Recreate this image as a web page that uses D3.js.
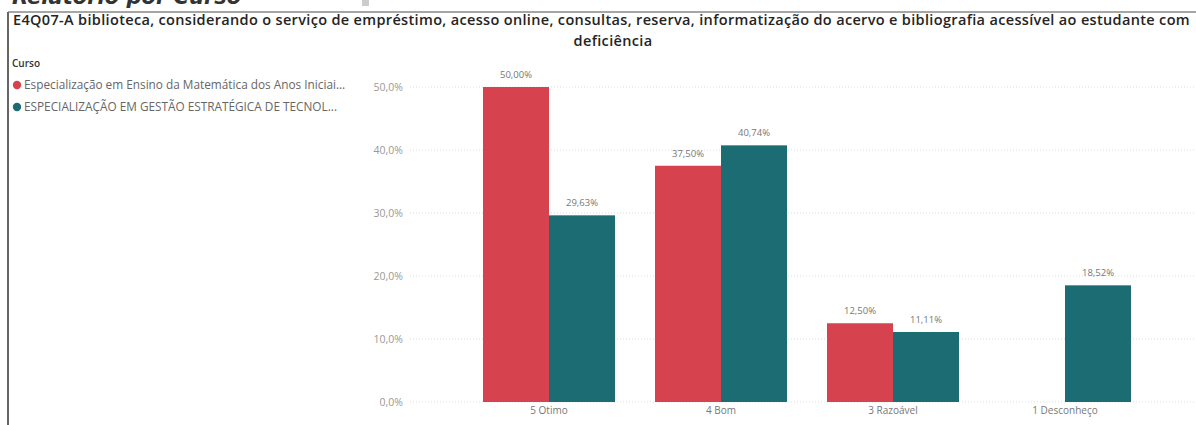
<!DOCTYPE html>
<html><head><meta charset="utf-8">
<script src="https://cdn.jsdelivr.net/npm/d3@7"></script>
<style>
html,body{margin:0;padding:0;background:#fff;overflow:hidden}
svg{display:block}
</style></head>
<body>
<svg id="c" width="1196" height="425"></svg>
<script>
const pageHeading = "Relatório por Curso";
const titleLines = [
  "E4Q07-A biblioteca, considerando o serviço de empréstimo, acesso online, consultas, reserva, informatização do acervo e bibliografia acessível ao estudante com",
  "deficiência"
];
const legendTitle = "Curso";
const seriesNames = [
  "Especialização em Ensino da Matemática dos Anos Iniciai...",
  "ESPECIALIZAÇÃO EM GESTÃO ESTRATÉGICA DE TECNOL..."
];
const categories = ["5 Otimo", "4 Bom", "3 Razoável", "1 Desconheço"];
const seriesA = [50.00, 37.50, 12.50, null];
const seriesB = [29.63, 40.74, 11.11, 18.52];
const yTicks = [0, 10, 20, 30, 40, 50];
const colors = ["#D6434F", "#1C6D73"];

const svg = d3.select("#c");

// cut-off page heading
svg.append("text").attr("x", 12).attr("y", 4)
  .attr("font-family", "DejaVu Sans").attr("font-size", 21).attr("font-weight", "bold")
  .attr("font-style", "italic").attr("fill", "#333").text(pageHeading);
svg.append("rect").attr("x", 362).attr("y", 0).attr("width", 7).attr("height", 6).attr("fill", "#ccc");

// visual border
svg.append("line").attr("x1", 8).attr("x2", 1196).attr("y1", 12).attr("y2", 12).attr("stroke", "#888").attr("stroke-width", 1.5);
svg.append("line").attr("x1", 8).attr("x2", 8).attr("y1", 12).attr("y2", 425).attr("stroke", "#666").attr("stroke-width", 2);

// title
const tFont = 14.5;
const t1 = svg.append("text").attr("x", 13).attr("y", 25)
  .attr("font-family", "Open Sans").attr("font-weight", 600).attr("font-size", tFont).attr("fill", "#252423")
  .text(titleLines[0]);
const w = t1.node().getComputedTextLength();
const target = 1177;
const ls = (target - w) / titleLines[0].length;
t1.attr("letter-spacing", ls);
svg.append("text").attr("x", 613).attr("y", 46).attr("text-anchor", "middle")
  .attr("font-family", "Open Sans").attr("font-weight", 600).attr("font-size", tFont).attr("letter-spacing", ls).attr("fill", "#252423")
  .text(titleLines[1]);

// legend
svg.append("text").attr("x", 12).attr("y", 67).attr("font-family", "Open Sans")
  .attr("font-size", 10).attr("font-weight", 600).attr("fill", "#333").text(legendTitle);
seriesNames.forEach((n, i) => {
  const y = 85 + i * 22;
  svg.append("circle").attr("cx", 17).attr("cy", y).attr("r", 4.2).attr("fill", colors[i]);
  svg.append("text").attr("x", 24).attr("y", y + 4).attr("font-family", "Open Sans")
    .attr("font-size", 11.8).attr("fill", "#666").text(n);
});

// scales
const y = d3.scaleLinear().domain([0, 50]).range([402, 87]);
const x = d3.scaleBand().domain(categories).range([410, 1204]).paddingInner(40 / 172).paddingOuter(73 / 172);
const xs = d3.scaleBand().domain([0, 1]).range([0, x.bandwidth()]);

// grid + y axis
const yAxis = d3.axisLeft(y).tickValues(yTicks).tickSize(0).tickPadding(0)
  .tickFormat(d => d3.format(".1f")(d).replace(".", ",") + "%");
const ga = svg.append("g").attr("transform", "translate(403,0)").call(yAxis);
ga.select(".domain").remove();
ga.selectAll("text").attr("font-family", "Open Sans").attr("font-size", 10.5).attr("fill", "#999");
svg.append("g").selectAll("line").data(yTicks).join("line")
  .attr("x1", 410).attr("x2", 1196).attr("y1", d => y(d)).attr("y2", d => y(d))
  .attr("stroke", "#ddd").attr("stroke-width", 1).attr("stroke-dasharray", "1,2");

// x axis
const xAxis = d3.axisBottom(x).tickSize(0).tickPadding(4);
const gx = svg.append("g").attr("transform", "translate(0,403)").call(xAxis);
gx.select(".domain").remove();
gx.selectAll("text").attr("font-family", "Open Sans").attr("font-size", 10).attr("fill", "#777");

// bars
const rows = [];
categories.forEach((c, i) => {
  [seriesA, seriesB].forEach((s, k) => {
    if (s[i] != null) rows.push({ c, k, v: s[i] });
  });
});
svg.append("g").selectAll("rect").data(rows).join("rect")
  .attr("x", d => x(d.c) + xs(d.k)).attr("width", xs.bandwidth())
  .attr("y", d => y(d.v)).attr("height", d => y(0) - y(d.v))
  .attr("fill", d => colors[d.k]);
svg.append("g").selectAll("text").data(rows).join("text")
  .attr("x", d => x(d.c) + xs(d.k) + xs.bandwidth() / 2).attr("y", d => y(d.v) - 9)
  .attr("text-anchor", "middle").attr("font-family", "Open Sans").attr("font-size", 9.5)
  .attr("fill", "#777").text(d => d3.format(".2f")(d.v).replace(".", ",") + "%");
</script>
</body></html>
